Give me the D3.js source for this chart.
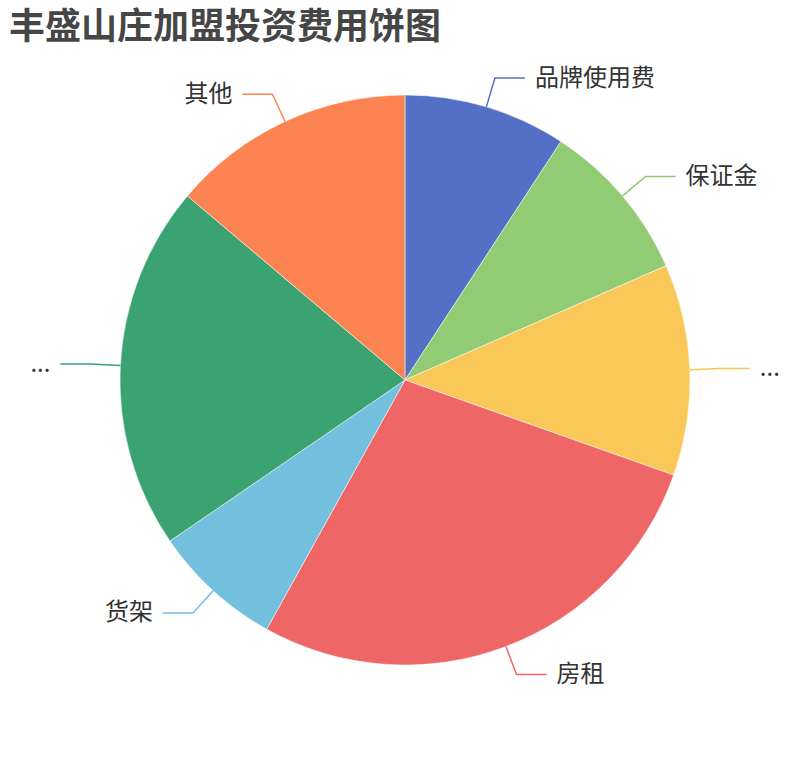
<!DOCTYPE html>
<html>
<head>
<meta charset="utf-8">
<script src="https://cdn.jsdelivr.net/npm/d3@7"></script>
<style>
  html, body { margin: 0; padding: 0; background: #fff; }
  svg { display: block; font-family: "Noto Sans CJK SC", "Noto Sans", sans-serif; }
</style>
</head>
<body>
<svg id="chart" width="810" height="760"></svg>
<script>
// slice names as they appear on the labels (two are truncated to "..." in the original)
const labels = ["品牌使用费", "保证金", "...", "房租", "货架", "...", "其他"];
const values = [10, 10, 13, 30, 8, 22.5, 15];
const colors = ["#5470c6", "#91cc75", "#fac858", "#ee6666", "#73c0de", "#3ba272", "#fc8452"];

document.addEventListener("DOMContentLoaded", function () {
  const svg = d3.select("#chart");
  const width = +svg.attr("width");
  const height = +svg.attr("height");

  const cx = width / 2, cy = height / 2;
  const radius = Math.min(width, height) / 2 * 0.75;
  const len1 = 30, len2 = 30, gap = 10;

  svg.append("text")
    .attr("x", 9)
    .attr("y", 39)
    .attr("fill", "#464646")
    .style("font-size", "36px")
    .style("font-weight", "bold")
    .text("丰盛山庄加盟投资费用饼图");

  const data = labels.map((name, i) => ({ name: name, value: values[i], color: colors[i] }));

  const pie = d3.pie().value(d => d.value).sort(null);
  const arc = d3.arc().innerRadius(0).outerRadius(radius);
  const arcs = pie(data);

  const g = svg.append("g").attr("transform", `translate(${cx},${cy})`);

  g.selectAll("path.slice")
    .data(arcs)
    .enter()
    .append("path")
    .attr("class", "slice")
    .attr("d", arc)
    .attr("fill", d => d.data.color)
    .attr("stroke", "#fff")
    .attr("stroke-width", 0.5);

  function pts(d) {
    const a = (d.startAngle + d.endAngle) / 2;
    const s = Math.sin(a), c = -Math.cos(a);
    const p1 = [radius * s, radius * c];
    const p2 = [(radius + len1) * s, (radius + len1) * c];
    const dir = s >= 0 ? 1 : -1;
    const p3 = [p2[0] + dir * len2, p2[1]];
    return { p1, p2, p3, dir };
  }

  g.selectAll("polyline")
    .data(arcs)
    .enter()
    .append("polyline")
    .attr("points", d => { const p = pts(d); return [p.p1, p.p2, p.p3].map(q => q.join(",")).join(" "); })
    .attr("fill", "none")
    .attr("stroke", d => d.data.color)
    .attr("stroke-width", 1.5);

  g.selectAll("text.label")
    .data(arcs)
    .enter()
    .append("text")
    .attr("class", "label")
    .attr("x", d => { const p = pts(d); return p.p3[0] + p.dir * gap; })
    .attr("y", d => pts(d).p3[1] - 3)
    .attr("dominant-baseline", "central")
    .attr("text-anchor", d => pts(d).dir > 0 ? "start" : "end")
    .attr("fill", "#333")
    .style("font-size", "24px")
    .text(d => d.data.name);
});
</script>
</body>
</html>
